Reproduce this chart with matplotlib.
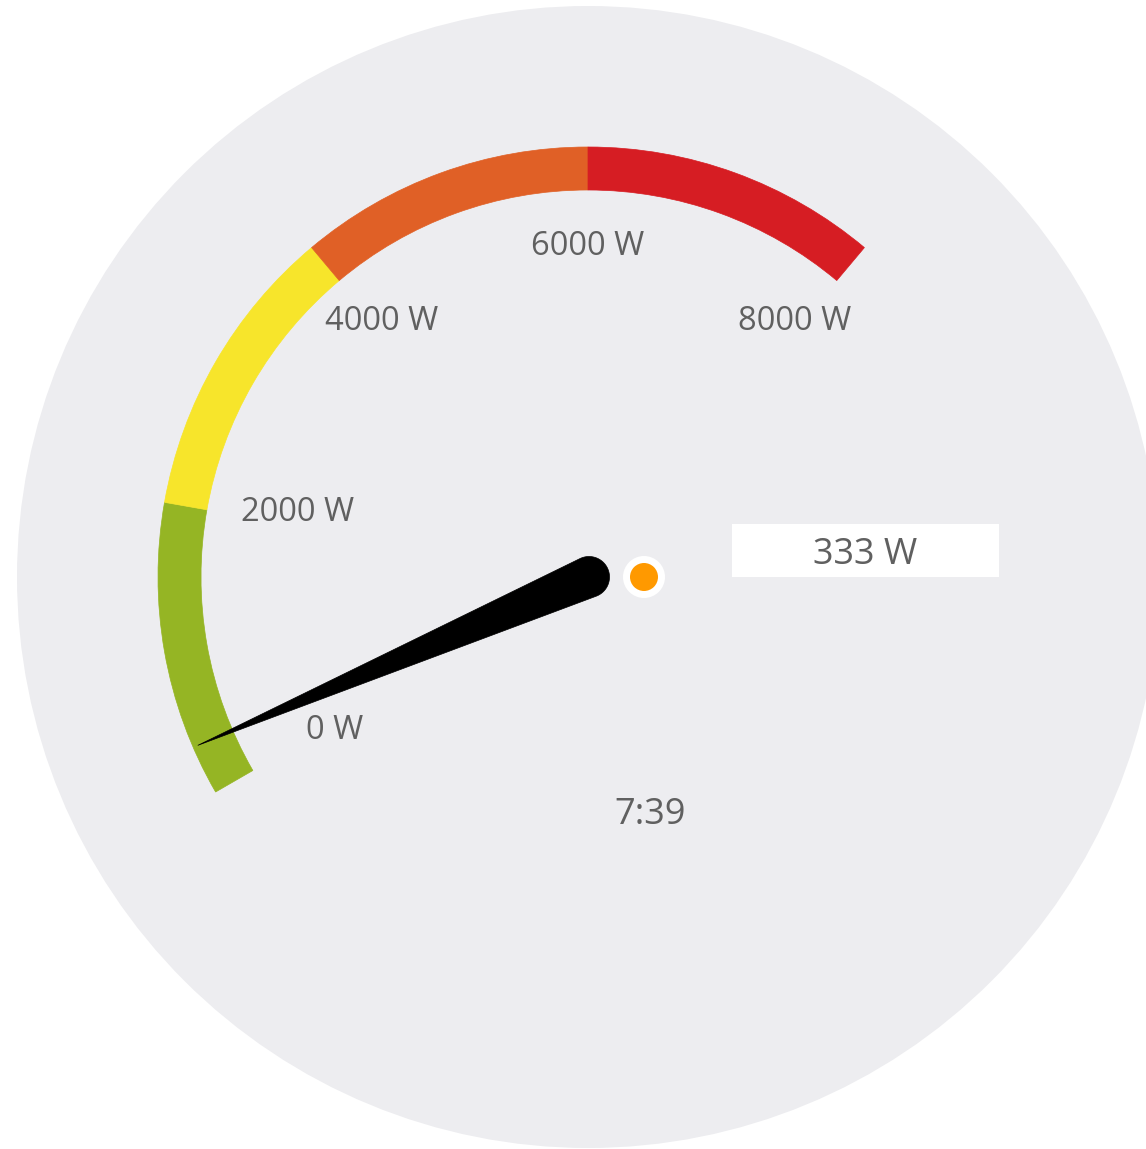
import numpy as np
import matplotlib
matplotlib.use('Agg')
import matplotlib.pyplot as plt
import matplotlib.patches as patches

# ── DATA ───────────────────────────────────────────────────
band_edges  = [0, 2000, 4000, 6000, 8000]
band_colors = ['#95b524', '#f7e52b', '#e06026', '#d61d23']
tick_values = [0, 2000, 4000, 6000, 8000]
tick_labels = ['0 W', '2000 W', '4000 W', '6000 W', '8000 W']
value       = 333
value_label = '333 W'
time_label  = '7:39'

# ── LAYOUT ─────────────────────────────────────────────────
W, H = 1146, 1149
CX, CY = 588, H - 577          # gauge centre (y up)
R_BG = 571
R_OUT, BAND_W = 430, 43
A0, A1 = 210.0, 50.0           # angle of min / max value
VMIN, VMAX = band_edges[0], band_edges[-1]
TEXT = '#606060'
FONT = 'Open Sans'
DY = -3.5                      # text baseline correction
# label nudges (px) relative to the radial anchor
lbl_r = 334
lbl_nudge = [(36, 17), (38, 10), (8, 3), (0, 0), (-8, 3)]


def ang(v):
    return A0 + (v - VMIN) / (VMAX - VMIN) * (A1 - A0)


fig = plt.figure(figsize=(W / 100, H / 100), dpi=100)
ax = fig.add_axes([0, 0, 1, 1])
ax.set_xlim(0, W); ax.set_ylim(0, H); ax.axis('off')
ax.set_aspect('equal')

ax.add_patch(patches.Circle((CX, CY), R_BG, facecolor='#ededf0', edgecolor='none'))

# coloured bands
for lo, hi, col in zip(band_edges[:-1], band_edges[1:], band_colors):
    ax.add_patch(patches.Wedge((CX, CY), R_OUT, ang(hi), ang(lo), width=BAND_W,
                               facecolor=col, edgecolor=col, linewidth=0.5))

# tick labels
for v, lab, (nx, ny) in zip(tick_values, tick_labels, lbl_nudge):
    a = np.radians(ang(v))
    x = CX + lbl_r * np.cos(a) + nx
    y = CY + lbl_r * np.sin(a) + ny + DY
    ax.text(x, y, lab, ha='center', va='center', fontsize=23.5,
            color=TEXT, fontfamily=FONT)

# needle: tip plus tangent points on the hub circle
a = np.radians(ang(value))
tip_r, base_r = 425, 20.5
hx, hy = CX + 1, CY
tip = (CX + tip_r * np.cos(a), CY + tip_r * np.sin(a))
phi = np.arccos(base_r / tip_r)
pts = [tip]
for s in np.linspace(phi, 2 * np.pi - phi, 60):
    pts.append((hx + base_r * np.cos(a + s), hy + base_r * np.sin(a + s)))
ax.add_patch(patches.Polygon(pts, closed=True, facecolor='black',
                             edgecolor='black', linewidth=0.5))

# indicator dot
ax.add_patch(patches.Circle((644, CY), 21, facecolor='white', edgecolor='none'))
ax.add_patch(patches.Circle((644, CY), 14, facecolor='#ff9900', edgecolor='none'))

# value box
ax.add_patch(patches.Rectangle((732, H - 577), 267, 53, facecolor='white', edgecolor='none'))
ax.text(865.5, H - 551 + DY, value_label, ha='center', va='center', fontsize=26,
        color=TEXT, fontfamily=FONT)

ax.text(650, H - 812 + DY, time_label, ha='center', va='center', fontsize=26,
        color=TEXT, fontfamily=FONT)

plt.savefig('out.png', dpi=100, facecolor='white')
